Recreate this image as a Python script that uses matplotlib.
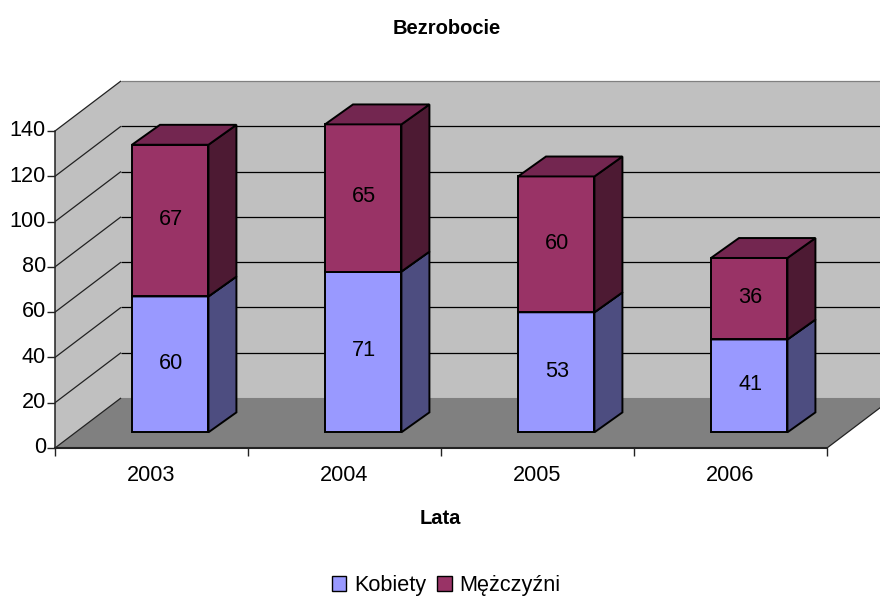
import matplotlib
matplotlib.use('Agg')
import matplotlib.pyplot as plt
from matplotlib.patches import Polygon, Patch
from matplotlib.transforms import ScaledTranslation

plt.rcParams['font.family'] = ['Liberation Sans', 'DejaVu Sans']

years = ['2003', '2004', '2005', '2006']
kobiety = [60, 71, 53, 41]
mezczyzni = [67, 65, 60, 36]
yticks = [0, 20, 40, 60, 80, 100, 120, 140]

W, H = 880, 596
# fake 3d: everything is in data units, depth is an offset up and to the right
wall_dx, wall_dy = 0.342, 22.1
front_dx, front_dy = 0.097, 6.93
bar_dx, bar_dy = 0.145, 8.8
bar_w = 0.396
font = 15.6

fig = plt.figure(figsize=(W / 100, H / 100), dpi=100)
ax = fig.add_axes([55 / W, (H - 448) / H, 772 / W, 317 / H])
ax.set_xlim(0, 4)
ax.set_ylim(0, 140)
ax.patch.set_visible(False)


def poly(pts, color, z, edge='black', lw=1.0):
    p = Polygon(pts, closed=True, facecolor=color, edgecolor=edge, linewidth=lw, zorder=z, clip_on=False)
    ax.add_patch(p)


def line(xs, ys, color='black', lw=0.9, z=2):
    ax.plot(xs, ys, color=color, linewidth=lw, zorder=z, clip_on=False, solid_capstyle='butt')


# walls and floor
poly([(0, 0), (wall_dx, wall_dy), (wall_dx, 140 + wall_dy), (0, 140)], '#C0C0C0', 1, edge='none')
poly([(wall_dx, wall_dy), (4 + wall_dx, wall_dy), (4 + wall_dx, 140 + wall_dy), (wall_dx, 140 + wall_dy)],
     '#C0C0C0', 1, edge='none')
poly([(0, 0), (4, 0), (4 + wall_dx, wall_dy), (wall_dx, wall_dy)], '#808080', 1, edge='none')

for v in yticks:
    c = '#808080' if v == 140 else 'black'
    if v > 0:
        line([wall_dx, 4 + wall_dx], [v + wall_dy, v + wall_dy], color=c)
    line([0, wall_dx], [v, v + wall_dy], color='#222222')
line([4, 4 + wall_dx], [0, wall_dy], color='#222222')


def draw_box(x, y0, y1, front, side, top, z):
    x0 = x + front_dx - bar_w / 2
    x1 = x + front_dx + bar_w / 2
    b0 = y0 + front_dy
    b1 = y1 + front_dy
    ax.bar(x0, b1 - b0, bar_w, bottom=b0, align='edge', color=front, edgecolor='black', linewidth=1.4,
           zorder=z, clip_on=False)
    poly([(x1, b0), (x1 + bar_dx, b0 + bar_dy), (x1 + bar_dx, b1 + bar_dy), (x1, b1)], side, z, lw=1.4)
    poly([(x0, b1), (x0 + bar_dx, b1 + bar_dy), (x1 + bar_dx, b1 + bar_dy), (x1, b1)], top, z, lw=1.4)


for i in range(len(years)):
    c = i + 0.5
    draw_box(c, 0, kobiety[i], '#9999FF', '#4D4D80', '#73739F', 3)
    draw_box(c, kobiety[i], kobiety[i] + mezczyzni[i], '#993366', '#4D1A33', '#732650', 4)
    ax.text(c + front_dx + 0.005, front_dy + kobiety[i] / 2 + 0.5, str(kobiety[i]), ha='center', va='center',
            fontsize=font, color='black', zorder=6)
    ax.text(c + front_dx + 0.005, front_dy + kobiety[i] + mezczyzni[i] / 2 + 0.5, str(mezczyzni[i]), ha='center',
            va='center', fontsize=font, color='black', zorder=6)

for s in ['top', 'right']:
    ax.spines[s].set_visible(False)
ax.spines['left'].set_linewidth(1.1)
ax.spines['bottom'].set_linewidth(1.5)
for s in ['left', 'bottom']:
    ax.spines[s].set_color('#222222')
    ax.spines[s].set_zorder(5)

ax.set_yticks(yticks)
ax.tick_params(axis='y', labelsize=font, length=6, width=1, pad=0.6, color='#222222')
# y labels sit a bit above their ticks
up = ScaledTranslation(0, 2 / 72, fig.dpi_scale_trans)
for lab in ax.get_yticklabels():
    lab.set_transform(lab.get_transform() + up)
ax.set_xticks([0, 1, 2, 3, 4])
ax.set_xticklabels([])
ax.tick_params(axis='x', which='major', length=6, width=1, color='#222222')
ax.set_xticks([0.5, 1.5, 2.5, 3.5], minor=True)
ax.set_xticklabels(years, minor=True)
ax.tick_params(axis='x', which='minor', length=0, labelsize=font, pad=12.5)

fig.text(446.5 / W, 1 - 28 / H, 'Bezrobocie', ha='center', va='center', fontsize=14.5, fontweight='bold')
fig.text(440.5 / W, 1 - 518 / H, 'Lata', ha='center', va='center', fontsize=14.5, fontweight='bold')

handles = [Patch(facecolor='#9999FF', edgecolor='black', label='Kobiety'),
           Patch(facecolor='#993366', edgecolor='black', label='Mężczyźni')]
fig.legend(handles=handles, loc='center', bbox_to_anchor=(446.5 / W, 1 - 585.5 / H), ncol=2, frameon=False,
           fontsize=font, handlelength=0.65, handleheight=0.65, handletextpad=0.37, columnspacing=0.5,
           borderpad=0, borderaxespad=0)

fig.savefig('out.png', dpi=100)
